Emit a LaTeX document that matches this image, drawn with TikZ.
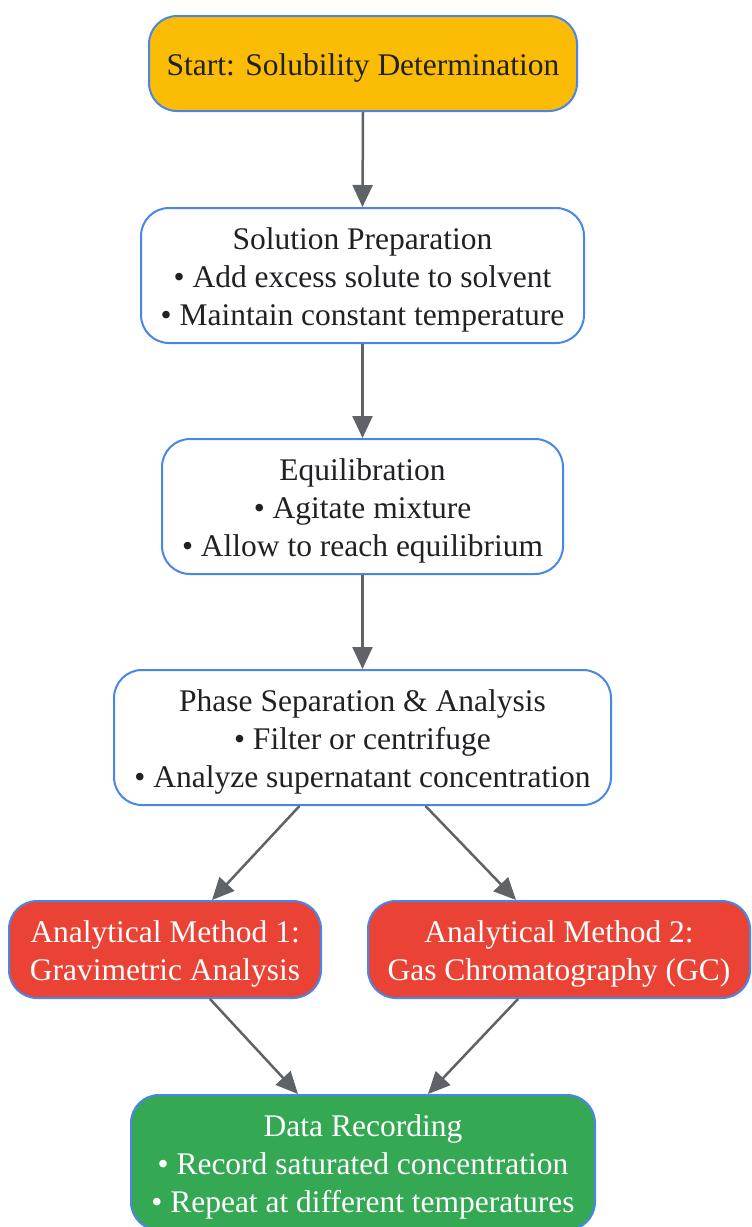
\documentclass[tikz,border=0pt]{standalone}
\usepackage{fontspec}
\setmainfont{Liberation Serif}
\usetikzlibrary{arrows.meta}
\definecolor{bluebd}{HTML}{4A86E8}
\definecolor{amber}{HTML}{FBBC05}
\definecolor{redf}{HTML}{EA4335}
\definecolor{greenf}{HTML}{34A853}
\definecolor{txt}{HTML}{202124}
\definecolor{arrc}{HTML}{5F6368}
\newcommand{\topstrut}{\rule{0pt}{31pt}}
\tikzset{
  box/.style={draw=bluebd, line width=2pt, rounded corners=28pt, align=center,
    font=\fontsize{31.5}{38}\selectfont, text=txt, inner sep=0pt},
  arr/.style={draw=arrc, line width=2.5pt, -{Triangle[length=22pt,width=20pt]}},
}
\begin{document}
\begin{tikzpicture}[x=1pt,y=-1pt]
\useasboundingbox (0,0) rectangle (752,1227);
\node[box, fill=amber, minimum width=428pt, minimum height=95pt] (start) at (363,63.5) {\topstrut Start: Solubility Determination};
\node[box, fill=white, minimum width=443pt, minimum height=135pt] (prep) at (362.5,275.5) {\topstrut Solution Preparation\\ • Add excess solute to solvent\\ • Maintain constant temperature};
\node[box, fill=white, minimum width=401pt, minimum height=135pt] (equi) at (362.5,506.5) {\topstrut Equilibration\\ • Agitate mixture\\ • Allow to reach equilibrium};
\node[box, fill=white, minimum width=497pt, minimum height=135pt] (phase) at (362.5,737.5) {\topstrut Phase Separation \& Analysis\\ • Filter or centrifuge\\ • Analyze supernatant concentration\rule[-7pt]{0pt}{7pt}};
\node[box, fill=redf, text=white, minimum width=312pt, minimum height=97pt] (m1) at (165,949.5) {\topstrut Analytical Method 1:\\ Gravimetric Analysis};
\node[box, fill=redf, text=white, minimum width=382pt, minimum height=97pt] (m2) at (559,949.5) {\topstrut Analytical Method 2:\\ Gas Chromatography (GC)};
\node[box, fill=greenf, text=white, minimum width=464pt, minimum height=135pt] (data) at (363,1162.5) {\topstrut Data Recording\\ • Record saturated concentration\\ • Repeat at different temperatures};
\draw[arr] (start.south) -- (prep.north);
\draw[arr] (prep.south) -- (equi.north);
\draw[arr] (equi.south) -- (phase.north);
\draw[arr] ([xshift=-63pt]phase.south) -- ([xshift=47pt]m1.north);
\draw[arr] ([xshift=63pt]phase.south) -- ([xshift=-43pt]m2.north);
\draw[arr] ([xshift=45pt]m1.south) -- ([xshift=-65pt]data.north);
\draw[arr] ([xshift=-41pt]m2.south) -- ([xshift=65pt]data.north);
\end{tikzpicture}
\end{document}
